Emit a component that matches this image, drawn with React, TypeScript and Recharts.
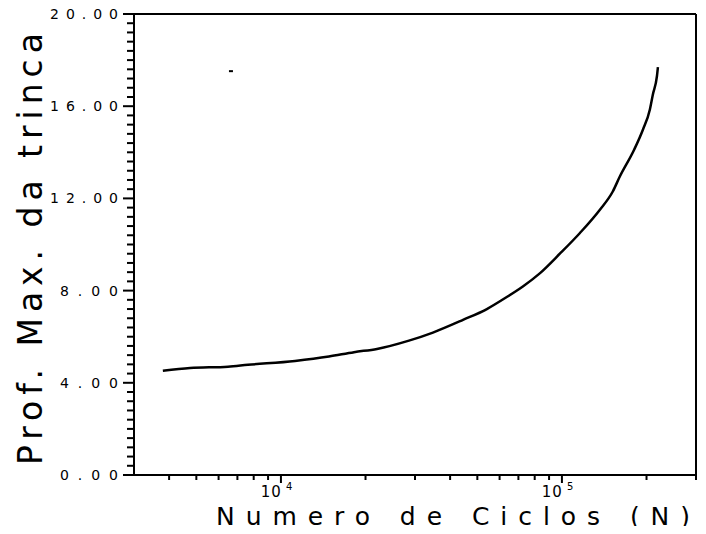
import React from "react";
import { ComposedChart, Line, Scatter, XAxis, YAxis, ReferenceLine, Label } from "recharts";

// crack depth vs. number of cycles
const cycles = [
  3800, 4750, 6480, 7630, 11220, 14820, 18200, 21970, 28550, 34740, 44460, 54060, 63620, 68100, 72600, 83600, 98300,
  115900, 136500, 151700, 160700, 180500, 194300, 205600, 210600, 217800, 219600,
];
const depth = [
  4.52, 4.64, 4.7, 4.78, 4.95, 5.14, 5.33, 5.47, 5.83, 6.18, 6.73, 7.2, 7.72, 7.95, 8.18, 8.76, 9.6, 10.5, 11.51,
  12.3, 12.95, 14.1, 14.99, 15.86, 16.5, 17.3, 17.7,
];
// stray speck on the scan
const strayCycles = [6640];
const strayDepth = [17.52];

const xTicks = [
  3000, 4000, 5000, 6000, 7000, 8000, 9000, 10000, 20000, 30000, 40000, 50000, 60000, 70000, 80000, 90000, 100000,
  200000, 300000,
];
const xMajor = [10000, 100000];
const xMajorExp = ["4", "5"];
const yMajor = [0, 4, 8, 12, 16, 20];
const yMajorLabels = ["0.00", "4.00", "8.00", "12.00", "16.00", "20.00"];
const yMinorStep = 0.4;

const curve = cycles.map((n, i) => ({ n, d: depth[i] }));
const stray = strayCycles.map((n, i) => ({ n, d: strayDepth[i] }));
const yTicks = Array.from({ length: Math.round(20 / yMinorStep) + 1 }, (_, i) => Math.round(i * yMinorStep * 10) / 10);

// svg is pulled to the page corner, so these are page pixels
const W = 706;
const H = 534;
const M = { top: 14, right: 10, left: 0, bottom: 0 };

const XTick = ({ x, y, payload }: any) => {
  const idx = xMajor.indexOf(payload.value);
  const major = idx >= 0;
  return (
    <g>
      {payload.value !== 3000 && (
        <line x1={x} y1={y} x2={x} y2={y + (major ? 8 : 5)} stroke="#000" strokeWidth={2} />
      )}
      {major && (
        <>
          <text x={x + 1} y={y + 22} textAnchor="end" fontFamily="DejaVu Sans" fontSize={15} letterSpacing={1} fill="#000">
            10
          </text>
          <text x={x + 5} y={y + 15} fontFamily="DejaVu Sans" fontSize={10} fill="#000">
            {xMajorExp[idx]}
          </text>
        </>
      )}
    </g>
  );
};

const YTick = ({ x, y, payload }: any) => {
  const idx = yMajor.indexOf(payload.value);
  const major = idx >= 0;
  return (
    <g>
      <line x1={x} y1={y} x2={x - (major ? 11 : 7)} y2={y} stroke="#000" strokeWidth={2} />
      {major && (
        <text
          x={x - 16}
          y={y + 5}
          textAnchor="end"
          fontFamily="DejaVu Sans"
          fontSize={14}
          textLength={payload.value >= 10 ? 68 : 58}
          lengthAdjust="spacing"
          fill="#000"
        >
          {yMajorLabels[idx]}
        </text>
      )}
    </g>
  );
};

const StrayDot = ({ cx, cy }: any) => <rect x={cx - 2} y={cy - 1} width={4} height={2} fill="#000" />;

export default function App() {
  return (
    <div style={{ width: W, height: H, margin: -8, background: "#fff" }}>
      <ComposedChart width={W} height={H} data={curve} margin={M}>
        <XAxis
          dataKey="n"
          type="number"
          scale="log"
          domain={[3000, 300000]}
          allowDataOverflow
          ticks={xTicks}
          interval={0}
          tick={<XTick />}
          tickLine={false}
          tickSize={0}
          tickMargin={0}
          height={59}
          axisLine={{ stroke: "#000", strokeWidth: 2 }}
        >
          <Label
            content={() => (
              <text
                x={453}
                y={525}
                textAnchor="middle"
                fontFamily="DejaVu Sans"
                fontSize={25}
                textLength={474}
                lengthAdjust="spacing"
                fill="#000"
              >
                Numero de Ciclos (N)
              </text>
            )}
          />
        </XAxis>
        <YAxis
          dataKey="d"
          type="number"
          domain={[0, 20]}
          ticks={yTicks}
          interval={0}
          tick={<YTick />}
          tickLine={false}
          tickSize={0}
          tickMargin={0}
          width={134}
          axisLine={{ stroke: "#000", strokeWidth: 2 }}
        >
          <Label
            content={() => (
              <text
                transform="translate(42, 249) rotate(-90)"
                textAnchor="middle"
                fontFamily="DejaVu Sans"
                fontSize={33}
                textLength={432}
                lengthAdjust="spacing"
                fill="#000"
              >
                Prof. Max. da trinca
              </text>
            )}
          />
        </YAxis>
        <ReferenceLine y={20} stroke="#000" strokeWidth={2} />
        <ReferenceLine x={300000} stroke="#000" strokeWidth={2} />
        <Line
          dataKey="d"
          type="monotone"
          stroke="#000"
          strokeWidth={2.5}
          dot={false}
          isAnimationActive={false}
        />
        <Scatter data={stray} dataKey="d" shape={<StrayDot />} isAnimationActive={false} />
      </ComposedChart>
    </div>
  );
}
